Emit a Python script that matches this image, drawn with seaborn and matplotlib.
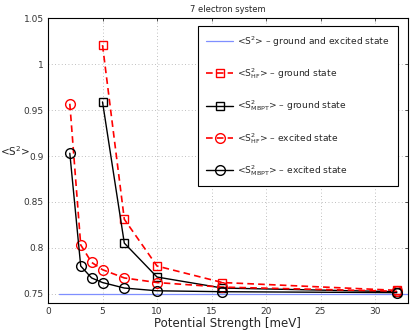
import matplotlib
matplotlib.use("Agg")
import matplotlib.pyplot as plt
import seaborn as sns
import pandas as pd

# Data
x_ground = [5, 7, 10, 16, 32]
hf_ground = [1.021, 0.831, 0.780, 0.762, 0.7535]
mbpt_ground = [0.959, 0.805, 0.768, 0.756, 0.752]
x_excited = [2, 3, 4, 5, 7, 10, 16, 32]
hf_excited = [0.957, 0.803, 0.784, 0.776, 0.767, 0.762, 0.757, 0.7525]
mbpt_excited = [0.903, 0.780, 0.767, 0.762, 0.756, 0.753, 0.752, 0.751]
x_exact = [1, 33]
exact = [0.75, 0.75]

labels = [
    r"<$\mathrm{S}^2$> – ground and excited state",
    r"<$\mathrm{S}^2_{\mathrm{HF}}$> – ground state",
    r"<$\mathrm{S}^2_{\mathrm{MBPT}}$> – ground state",
    r"<$\mathrm{S}^2_{\mathrm{HF}}$> – excited state",
    r"<$\mathrm{S}^2_{\mathrm{MBPT}}$> – excited state",
]

sns.set_style("white")
plt.rcParams['font.family'] = ['DejaVu Sans']
plt.rcParams['mathtext.default'] = 'regular'

fig = plt.figure(figsize=(4.15, 3.3), dpi=100)
ax = fig.add_axes([0.1157, 0.0827, 0.8667, 0.8613])

sns.lineplot(x=x_exact, y=exact, ax=ax, color="#7f8fff", lw=0.9, label=labels[0])
sns.lineplot(x=x_ground, y=hf_ground, ax=ax, color="red", lw=1.2,
             linestyle=(0, (4, 2.5)), marker="s", markersize=6, markerfacecolor="none",
             markeredgecolor="red", markeredgewidth=1.0, label=labels[1])
sns.lineplot(x=x_ground, y=mbpt_ground, ax=ax, color="black", lw=1.0,
             marker="s", markersize=6, markerfacecolor="none",
             markeredgecolor="black", markeredgewidth=1.0, label=labels[2])
sns.lineplot(x=x_excited, y=hf_excited, ax=ax, color="red", lw=1.2,
             linestyle=(0, (4, 2.5)), marker="o", markersize=7, markerfacecolor="none",
             markeredgecolor="red", markeredgewidth=1.0, label=labels[3])
sns.lineplot(x=x_excited, y=mbpt_excited, ax=ax, color="black", lw=1.0,
             marker="o", markersize=7, markerfacecolor="none",
             markeredgecolor="black", markeredgewidth=1.0, label=labels[4])

ax.set_xlim(0, 33)
ax.set_ylim(0.74, 1.05)
ax.set_xticks([0, 5, 10, 15, 20, 25, 30])
ax.set_yticks([0.75, 0.8, 0.85, 0.9, 0.95, 1.0, 1.05])
ax.set_yticklabels(["0.75", "0.8", "0.85", "0.9", "0.95", "1", "1.05"])
ax.tick_params(direction="in", length=2.5, labelsize=6.5, top=True, right=True,
               colors="#333333", width=0.6, pad=3)
ax.grid(True, linestyle=(0, (1, 3)), color="#aaaaaa", lw=0.6)
for s in ax.spines.values():
    s.set_color("black")
    s.set_linewidth(0.8)

ax.set_title("7 electron system", fontsize=6, pad=5)
ax.set_xlabel("Potential Strength [meV]", fontsize=8.5, labelpad=1)
ax.set_ylabel(r"<$\mathrm{S}^2$>", fontsize=7.5, rotation=0, va="center", ha="center")
ax.yaxis.set_label_coords(-0.093, 0.535)

leg = ax.legend(loc="upper right", fontsize=6.6, labelspacing=1.9, handlelength=3.0,
                borderpad=0.9, fancybox=False, framealpha=1, edgecolor="black",
                bbox_to_anchor=(0.985, 0.99), handletextpad=0.4)
leg.get_frame().set_linewidth(0.8)

fig.savefig("out.png", dpi=100)
